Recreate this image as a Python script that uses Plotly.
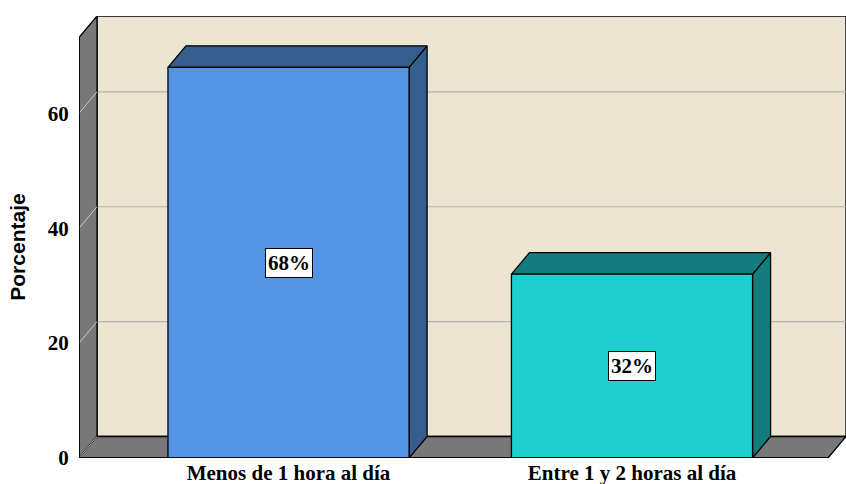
import plotly.graph_objs as go

# data
categories = ['Menos de 1 hora al día', 'Entre 1 y 2 horas al día']
percentages = [68, 32]
y_ticks = [0, 20, 40, 60]

front_colors = ['#5495E3', '#1DCFCF']
shade_colors = ['#355E8F', '#137D7D']

# 3D look, in axis units
DX = 0.0524      # depth in x (category units)
DY = 3.74        # depth in y (percent units)
HALF = 0.351     # half bar width
X_LEFT = -0.61
X_RIGHT = 1.5706
WALL_TOP = 73.2

fig = go.Figure()


def poly(xs, ys, fill, line_color='black', width=1.3):
    fig.add_trace(go.Scatter(
        x=xs + [xs[0]], y=ys + [ys[0]],
        mode='lines', fill='toself', fillcolor=fill,
        line=dict(color=line_color, width=width),
        hoverinfo='skip', showlegend=False
    ))


def seg(xs, ys, color, width=1):
    fig.add_trace(go.Scatter(
        x=xs, y=ys, mode='lines',
        line=dict(color=color, width=width),
        hoverinfo='skip', showlegend=False
    ))


# back wall
poly([X_LEFT + DX, X_RIGHT + DX, X_RIGHT + DX, X_LEFT + DX],
     [DY, DY, WALL_TOP + DY, WALL_TOP + DY], '#EBE5D1')

# gridlines on back wall
for v in y_ticks[1:]:
    seg([X_LEFT + DX, X_RIGHT + DX], [v + DY, v + DY], '#B4B4B4', 1.2)

# side wall
poly([X_LEFT, X_LEFT, X_LEFT + DX, X_LEFT + DX],
     [0, WALL_TOP, WALL_TOP + DY, DY], '#787878')

# floor
poly([X_LEFT, X_RIGHT, X_RIGHT + DX, X_LEFT + DX],
     [0, 0, DY, DY], '#787878')

# diagonal tick lines on side wall
for v in y_ticks:
    seg([X_LEFT, X_LEFT + DX], [v, v + DY], '#C8C8C8', 1)

# bars
for i, v in enumerate(percentages):
    x0, x1 = i - HALF, i + HALF
    poly([x1, x1, x1 + DX, x1 + DX], [0, v, v + DY, DY], shade_colors[i])
    poly([x0, x1, x1 + DX, x0 + DX], [v, v, v + DY, v + DY], shade_colors[i])
    poly([x0, x1, x1, x0], [0, 0, v, v], front_colors[i])
    fig.add_annotation(
        x=i, y=v / 2, text=f'<b>{v}%</b>', showarrow=False,
        bgcolor='white', bordercolor='black', borderwidth=1, borderpad=2,
        font=dict(family='Liberation Serif', size=21, color='black')
    )

# front axis lines
seg([X_LEFT, X_LEFT], [0, WALL_TOP], 'black', 1.5)
seg([X_LEFT, X_RIGHT], [0, 0], 'black', 1.5)

# y axis title, centred on the front plane
fig.add_annotation(
    x=X_LEFT, y=WALL_TOP / 2, xshift=-61, textangle=-90,
    text='<b>Porcentaje</b>', showarrow=False,
    font=dict(family='Liberation Sans', size=21, color='black')
)

fig.update_layout(
    width=846, height=484,
    paper_bgcolor='white', plot_bgcolor='white',
    margin=dict(l=79, r=0, t=16, b=26, autoexpand=False),
    showlegend=False,
    xaxis=dict(
        range=[X_LEFT, X_RIGHT + DX], showgrid=False, zeroline=False,
        tickvals=[0, 1], ticktext=[f'<b>{c}</b>' for c in categories],
        tickfont=dict(family='Liberation Serif', size=21, color='black'),
        ticks='', fixedrange=True, automargin=False
    ),
    yaxis=dict(
        range=[0, WALL_TOP + DY], showgrid=False, zeroline=False,
        tickvals=y_ticks, ticktext=[f'<b>{t}</b>' for t in y_ticks],
        tickfont=dict(family='Liberation Serif', size=21, color='black'),
        ticks='outside', ticklen=5, tickcolor='rgba(0,0,0,0)',
        fixedrange=True, automargin=False
    )
)

fig.write_html('out.html', config={'displayModeBar': False},
               post_script="document.body.style.margin='0';")
